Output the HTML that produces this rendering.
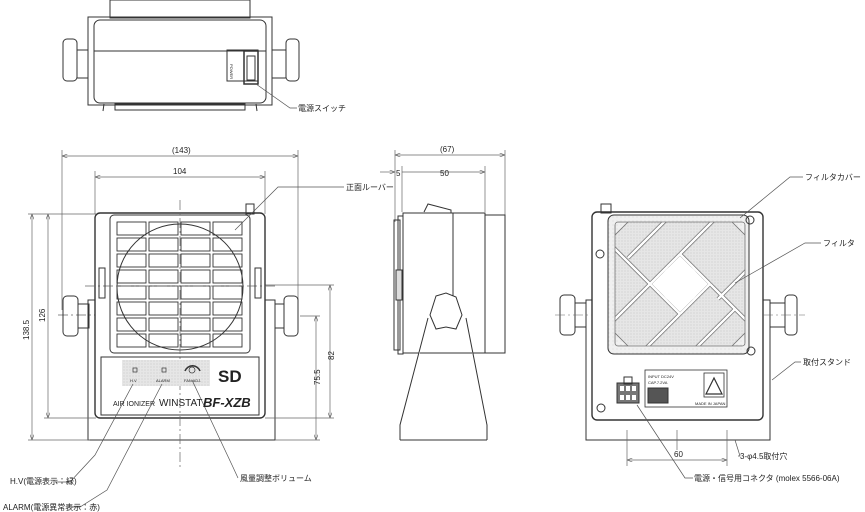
<!DOCTYPE html>
<html><head><meta charset="utf-8"><style>
html,body{margin:0;padding:0;background:#fff;}
svg{display:block;font-family:"Liberation Sans","Noto Sans CJK JP",sans-serif;}
</style></head><body>
<svg width="865" height="512" viewBox="0 0 865 512" xmlns="http://www.w3.org/2000/svg">
<defs>
<marker id="a" markerWidth="8" markerHeight="6" refX="8" refY="3" orient="auto-start-reverse"><path d="M0,0L8,3L0,6" fill="none" stroke="#555" stroke-width="0.8"/></marker>
<pattern id="g" width="3" height="3" patternUnits="userSpaceOnUse"><rect width="3" height="3" fill="#e6e6e6"/><circle cx="1" cy="1" r="0.5" fill="#bbb"/></pattern>
<pattern id="g2" width="4" height="4" patternUnits="userSpaceOnUse"><rect width="4" height="4" fill="#f0f0f0"/><circle cx="1" cy="1" r="0.5" fill="#d0d0d0"/></pattern>
<clipPath id="fc"><rect x="615" y="222" width="130" height="124" rx="3"/></clipPath>
</defs>
<g fill="none" stroke="#333" stroke-width="1">
<!-- TOP VIEW -->
<rect x="110" y="0" width="140" height="18"/>
<rect x="88" y="17" width="184" height="88"/>
<rect x="94" y="20" width="172" height="83" rx="6" fill="#fff"/>
<line x1="94" y1="51" x2="266" y2="51"/>
<rect x="63" y="39" width="14" height="42" rx="4"/>
<rect x="77" y="50" width="11" height="28"/>
<rect x="286" y="39" width="13" height="42" rx="4"/>
<rect x="272" y="50" width="14" height="28"/>
<rect x="227" y="50" width="31" height="31"/>
<rect x="244" y="51" width="14" height="33" stroke-width="1.5"/>
<rect x="247" y="56" width="8" height="24"/>
<rect x="115" y="104" width="130" height="6"/>
<line x1="104" y1="104" x2="103" y2="111"/><line x1="256" y1="104" x2="257" y2="111"/>
<polyline points="256,84 290,108 297,108" stroke="#555" stroke-width="0.7"/>

<!-- FRONT VIEW -->
<rect x="88" y="300" width="187" height="140"/>
<g stroke="#666" stroke-width="0.7">
<line x1="62" y1="156" x2="298" y2="156" marker-start="url(#a)" marker-end="url(#a)"/>
<line x1="62" y1="150" x2="62" y2="310"/><line x1="298" y1="150" x2="298" y2="310"/>
<line x1="95" y1="177" x2="265" y2="177" marker-start="url(#a)" marker-end="url(#a)"/>
<line x1="95" y1="171" x2="95" y2="214"/><line x1="265" y1="171" x2="265" y2="214"/>
<line x1="32" y1="214" x2="32" y2="440" marker-start="url(#a)" marker-end="url(#a)"/>
<line x1="48" y1="214" x2="48" y2="418" marker-start="url(#a)" marker-end="url(#a)"/>
<line x1="28" y1="214" x2="96" y2="214"/><line x1="28" y1="440" x2="90" y2="440"/><line x1="44" y1="418" x2="96" y2="418"/>
<line x1="330" y1="285" x2="330" y2="418" marker-start="url(#a)" marker-end="url(#a)"/>
<line x1="316" y1="316" x2="316" y2="440" marker-start="url(#a)" marker-end="url(#a)"/>
<line x1="265" y1="418" x2="334" y2="418"/><line x1="275" y1="440" x2="320" y2="440"/>
<line x1="262" y1="285" x2="334" y2="285"/><line x1="300" y1="316" x2="320" y2="316"/>
<line x1="58" y1="315" x2="100" y2="315" stroke-dasharray="10,3,2,3"/>
</g>
<rect x="95" y="213" width="170" height="205" rx="5" stroke-width="1.4" fill="#fff"/>
<rect x="246" y="204" width="8" height="10"/>
<rect x="110" y="215" width="140" height="138" rx="4"/>
<circle cx="180" cy="287" r="63"/>
<g stroke-width="0.9">
<rect x="117" y="222" width="29" height="13"/><rect x="149" y="222" width="29" height="13"/><rect x="181" y="222" width="29" height="13"/><rect x="213" y="222" width="29" height="13"/>
<rect x="117" y="238" width="29" height="13"/><rect x="149" y="238" width="29" height="13"/><rect x="181" y="238" width="29" height="13"/><rect x="213" y="238" width="29" height="13"/>
<rect x="117" y="254" width="29" height="13"/><rect x="149" y="254" width="29" height="13"/><rect x="181" y="254" width="29" height="13"/><rect x="213" y="254" width="29" height="13"/>
<rect x="117" y="270" width="29" height="13"/><rect x="149" y="270" width="29" height="13"/><rect x="181" y="270" width="29" height="13"/><rect x="213" y="270" width="29" height="13"/>
<rect x="117" y="286" width="29" height="13"/><rect x="149" y="286" width="29" height="13"/><rect x="181" y="286" width="29" height="13"/><rect x="213" y="286" width="29" height="13"/>
<rect x="117" y="302" width="29" height="13"/><rect x="149" y="302" width="29" height="13"/><rect x="181" y="302" width="29" height="13"/><rect x="213" y="302" width="29" height="13"/>
<rect x="117" y="318" width="29" height="13"/><rect x="149" y="318" width="29" height="13"/><rect x="181" y="318" width="29" height="13"/><rect x="213" y="318" width="29" height="13"/>
<rect x="117" y="334" width="29" height="13"/><rect x="149" y="334" width="29" height="13"/><rect x="181" y="334" width="29" height="13"/><rect x="213" y="334" width="29" height="13"/>
</g>
<g stroke="#666" stroke-width="0.7">
<line x1="180" y1="200" x2="180" y2="470" stroke-dasharray="10,3,2,3"/>
<line x1="85" y1="286" x2="275" y2="286" stroke-dasharray="10,3,2,3"/>
</g>
<rect x="99" y="268" width="6" height="30"/><rect x="255" y="268" width="6" height="30"/>
<rect x="63" y="296" width="15" height="40" rx="4"/><rect x="78" y="304" width="11" height="24"/>
<rect x="284" y="296" width="14" height="40" rx="4"/><rect x="275" y="304" width="9" height="24"/>
<rect x="101" y="357" width="158" height="58"/>
<rect x="122" y="360" width="88" height="26" fill="url(#g)" stroke="none"/>
<rect x="133" y="368" width="4" height="4" stroke-width="0.7"/><rect x="162" y="368" width="4" height="4" stroke-width="0.7"/>
<circle cx="192" cy="370" r="3" stroke-width="0.7"/>
<path d="M185,371 A8,8 0 0 1 200,371" stroke-width="1.5"/>
<polyline points="133,384 95,455 70,482 55,482" stroke="#555" stroke-width="0.7"/>
<polyline points="162,384 107,490 80,507 66,507" stroke="#555" stroke-width="0.7"/>
<polyline points="192,380 232,465 238,478" stroke="#555" stroke-width="0.7"/>
<polyline points="235,230 278,187 344,187" stroke="#555" stroke-width="0.7"/>

<!-- SIDE VIEW -->
<g stroke="#666" stroke-width="0.7">
<line x1="395" y1="155" x2="505" y2="155" marker-start="url(#a)" marker-end="url(#a)"/>
<line x1="402" y1="172" x2="485" y2="172" marker-end="url(#a)"/>
<line x1="380" y1="172" x2="395" y2="172" marker-end="url(#a)"/>
<line x1="395" y1="150" x2="395" y2="222"/><line x1="402" y1="166" x2="402" y2="212"/>
<line x1="485" y1="166" x2="485" y2="212"/><line x1="505" y1="150" x2="505" y2="215"/>
</g>
<rect x="394" y="220" width="6" height="130"/>
<rect x="398" y="216" width="5" height="138"/>
<rect x="396" y="270" width="6" height="30" fill="#ddd"/>
<path d="M403,213 L485,213 L485,353 L403,353 Z"/>
<line x1="453" y1="213" x2="453" y2="300"/>
<path d="M424,212 L428,204 L451,210 L451,213"/>
<rect x="485" y="215" width="20" height="138"/>
<path d="M400,440 L400,425 L428,318 M487,440 L487,425 L466,318 M400,440 L487,440" fill="#fff"/>
<path d="M436,296 L446,293 L456,297 L462,315 L456,329 L446,327 L436,329 L430,315 Z" fill="#fff"/>

<!-- BACK VIEW -->
<rect x="586" y="300" width="184" height="140"/>
<rect x="592" y="212" width="171" height="208" rx="5" stroke-width="1.4" fill="#fff"/>
<rect x="601" y="204" width="10" height="9"/>
<rect x="608" y="215" width="141" height="139" rx="6" fill="url(#g2)"/>
<g clip-path="url(#fc)">
<rect x="615" y="222" width="130" height="124" fill="url(#g)" stroke="none"/>
<g stroke="#777" stroke-width="4" stroke-linecap="butt">
<line x1="680" y1="254" x2="650" y2="284"/><line x1="680" y1="254" x2="710" y2="284"/>
<line x1="710" y1="284" x2="680" y2="314"/><line x1="650" y1="284" x2="680" y2="314"/>
<line x1="680" y1="254" x2="716" y2="218"/>
<line x1="710" y1="284" x2="750" y2="324"/>
<line x1="680" y1="314" x2="644" y2="350"/>
<line x1="650" y1="284" x2="612" y2="246"/>
<line x1="666" y1="220" x2="628" y2="258"/>
<line x1="747" y1="270" x2="718" y2="299"/>
<line x1="694" y1="350" x2="735" y2="309"/>
<line x1="612" y1="322" x2="650" y2="284"/>
</g>
<g stroke="#fff" stroke-width="2.4">
<line x1="680" y1="254" x2="650" y2="284"/><line x1="680" y1="254" x2="710" y2="284"/>
<line x1="710" y1="284" x2="680" y2="314"/><line x1="650" y1="284" x2="680" y2="314"/>
<line x1="680" y1="254" x2="716" y2="218"/>
<line x1="710" y1="284" x2="750" y2="324"/>
<line x1="680" y1="314" x2="644" y2="350"/>
<line x1="650" y1="284" x2="612" y2="246"/>
<line x1="666" y1="220" x2="628" y2="258"/>
<line x1="747" y1="270" x2="718" y2="299"/>
<line x1="694" y1="350" x2="735" y2="309"/>
<line x1="612" y1="322" x2="650" y2="284"/>
</g>
<path d="M680,256 L708,284 L680,312 L652,284 Z" fill="#fff" stroke="none"/>
<circle cx="680" cy="284" r="20" fill="#fff" stroke="none"/>
<path d="M615,222 L628,222 L615,235 Z M745,222 L732,222 L745,235 Z M615,346 L628,346 L615,333 Z M745,346 L732,346 L745,333 Z" fill="url(#g2)" stroke="#777" stroke-width="0.8"/>
</g>
<rect x="615" y="222" width="130" height="124" rx="3" stroke="#777" stroke-width="0.8"/>
<circle cx="750" cy="220" r="4"/><circle cx="600" cy="254" r="4"/>
<circle cx="751" cy="351" r="4"/><circle cx="601" cy="408" r="4"/>
<rect x="560" y="295" width="15" height="40" rx="4"/><rect x="575" y="303" width="11" height="24"/>
<rect x="785" y="295" width="12" height="40" rx="4"/><rect x="770" y="303" width="15" height="24"/>
<line x1="555" y1="315" x2="592" y2="315" stroke="#666" stroke-width="0.6" stroke-dasharray="10,3,2,3"/>
<line x1="763" y1="315" x2="805" y2="315" stroke="#666" stroke-width="0.6" stroke-dasharray="10,3,2,3"/>
<rect x="645" y="370" width="82" height="37" stroke-width="0.8"/>
<rect x="617" y="383" width="22" height="20" fill="#777" stroke="#333"/>
<rect x="624" y="377" width="8" height="7"/>
<g fill="#fff" stroke="none"><rect x="620" y="386" width="4" height="5"/><rect x="626" y="386" width="4" height="5"/><rect x="632" y="386" width="4" height="5"/><rect x="620" y="395" width="4" height="5"/><rect x="626" y="395" width="4" height="5"/><rect x="632" y="395" width="4" height="5"/></g>
<rect x="648" y="388" width="20" height="15" fill="#555"/>
<rect x="704" y="373" width="20" height="24" stroke-width="0.8"/>
<path d="M706,394 L714,378 L722,394 Z" stroke-width="1.2"/>
<g stroke="#666" stroke-width="0.7">
<line x1="627" y1="460" x2="727" y2="460" marker-start="url(#a)" marker-end="url(#a)"/>
<line x1="627" y1="430" x2="627" y2="466"/><line x1="727" y1="430" x2="727" y2="466"/>
<line x1="677" y1="430" x2="677" y2="450"/>
</g>
<polyline points="735,440 740,456 738,456" stroke="#555" stroke-width="0.7"/>
<polyline points="637,405 685,478 693,478" stroke="#555" stroke-width="0.7"/>
<polyline points="740,218 790,177 803,177" stroke="#555" stroke-width="0.7"/>
<polyline points="735,283 805,243 821,243" stroke="#555" stroke-width="0.7"/>
<polyline points="772,380 795,362 801,362" stroke="#555" stroke-width="0.7"/>
</g>

<g fill="#222" font-size="8">
<text x="230" y="64" font-size="4" transform="rotate(90 230 64)">POWER</text>
<text x="298" y="111">電源スイッチ</text>
<text x="172" y="153">(143)</text>
<text x="173" y="174">104</text>
<text x="29" y="340" transform="rotate(-90 29 340)">138.5</text>
<text x="45" y="322" transform="rotate(-90 45 322)">126</text>
<text x="334" y="360" transform="rotate(-90 334 360)">82</text>
<text x="320" y="385" transform="rotate(-90 320 385)">75.5</text>
<text x="346" y="190">正面ルーバー</text>
<text x="130" y="382" font-size="4">H.V</text><text x="156" y="382" font-size="4">ALARM</text><text x="184" y="382" font-size="4">FAN ADJ.</text>
<text x="113" y="406" font-size="7">AIR IONIZER</text>
<text x="159" y="406" font-size="10">WINSTAT</text>
<text x="203" y="407" font-size="13" font-weight="bold" font-style="italic">BF-XZB</text>
<text x="218" y="382" font-size="17" font-weight="bold">SD</text>
<text x="10" y="484">H.V(電源表示：緑)</text>
<text x="3" y="510">ALARM(電源異常表示：赤)</text>
<text x="240" y="481">風量調整ボリューム</text>
<text x="440" y="152">(67)</text>
<text x="440" y="176">50</text>
<text x="396" y="176">5</text>
<text x="805" y="180">フィルタカバー</text>
<text x="823" y="246">フィルタ</text>
<text x="803" y="365">取付スタンド</text>
<text x="740" y="459">3-φ4.5取付穴</text>
<text x="674" y="457">60</text>
<text x="694" y="481">電源・信号用コネクタ (molex 5566-06A)</text>
<text x="648" y="378" font-size="4">INPUT DC24V</text>
<text x="648" y="384" font-size="4">CAP.7.2VA</text>
<text x="695" y="405" font-size="4">MADE IN JAPAN</text>
</g>
</svg>
</body></html>
